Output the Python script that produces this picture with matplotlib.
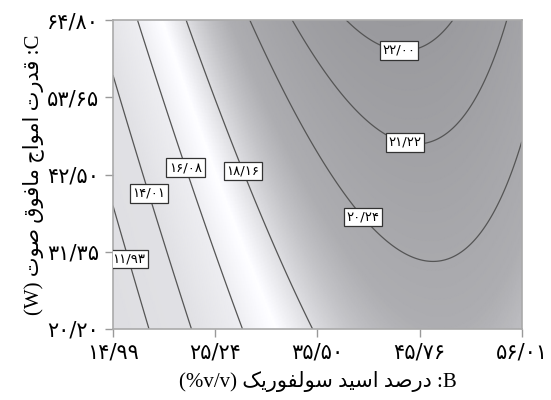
import numpy as np
import matplotlib
matplotlib.use("Agg")
import matplotlib.pyplot as plt
from matplotlib.colors import LinearSegmentedColormap

# factor ranges (B: sulfuric acid %, C: ultrasound power W)
b_ticks = [14.99, 25.24, 35.50, 45.76, 56.01]
c_ticks = [20.20, 31.35, 42.50, 53.65, 64.80]

# quadratic response surface in coded units: 1, A, C, AC, A^2, C^2
coef = [20.00, 3.81, 1.69, -0.79, -3.76, -0.04]

levels = [11.93, 14.01, 16.08, 18.16, 20.24, 21.22, 22.00]
label_pos = [(17.3, 30.6), (18.0, 39.5), (22.5, 43.6), (28.4, 43.2),
             (40.4, 36.8), (44.4, 47.9), (43.8, 61.8)]

FA = str.maketrans("0123456789.", "۰۱۲۳۴۵۶۷۸۹/")

def fa_num(v):
    return f"{v:.2f}".translate(FA)

# minimal arabic shaping: (isolated, final, initial, medial)
FORMS = {
    'ا': ('\ufe8d', '\ufe8e'), 'د': ('\ufea9', '\ufeaa'),
    'ر': ('\ufead', '\ufeae'), 'و': ('\ufeed', '\ufeee'),
    'ص': ('\ufeb9', '\ufeba', '\ufebb', '\ufebc'),
    'س': ('\ufeb1', '\ufeb2', '\ufeb3', '\ufeb4'),
    'ل': ('\ufedd', '\ufede', '\ufedf', '\ufee0'),
    'ف': ('\ufed1', '\ufed2', '\ufed3', '\ufed4'),
    'ق': ('\ufed5', '\ufed6', '\ufed7', '\ufed8'),
    'ت': ('\ufe95', '\ufe96', '\ufe97', '\ufe98'),
    'م': ('\ufee1', '\ufee2', '\ufee3', '\ufee4'),
    'ج': ('\ufe9d', '\ufe9e', '\ufe9f', '\ufea0'),
    'ی': ('\ufbfc', '\ufbfd', '\ufbfe', '\ufbff'),
    'ک': ('\ufb8e', '\ufb8f', '\ufb90', '\ufb91'),
}

def rtl(s):
    out = []
    for i, ch in enumerate(s):
        f = FORMS.get(ch)
        if f is None:
            out.append(ch)
            continue
        prev = FORMS.get(s[i - 1]) if i > 0 else None
        nxt = FORMS.get(s[i + 1]) if i + 1 < len(s) else None
        jp = prev is not None and len(prev) == 4
        jn = nxt is not None and len(f) == 4
        if jp and jn:
            out.append(f[3])
        elif jp:
            out.append(f[1])
        elif jn:
            out.append(f[2])
        else:
            out.append(f[0])
    return "".join(out)[::-1]

xlabel = "(%v/v) " + rtl("درصد اسید سولفوریک") + " :B"
ylabel = "(W) " + rtl("قدرت امواج مافوق صوت") + " :C"

B = np.linspace(b_ticks[0], b_ticks[-1], 300)
C = np.linspace(c_ticks[0], c_ticks[-1], 300)
BB, CC = np.meshgrid(B, C)
a = (BB - 35.50) / 20.51
c = (CC - 42.50) / 22.30
Z = (coef[0] + coef[1] * a + coef[2] * c + coef[3] * a * c
     + coef[4] * a ** 2 + coef[5] * c ** 2)

zmin, zmax = 9.9, 22.3
nodes = [(9.9, 0.87), (14.0, 0.88), (16.0, 0.93), (17.2, 1.0), (18.2, 0.87),
         (19.0, 0.76), (19.7, 0.68), (21.6, 0.62), (22.3, 0.60)]
cmap = LinearSegmentedColormap.from_list(
    "gr", [((z - zmin) / (zmax - zmin), (g, g, g + 0.015)) for z, g in nodes])

fig = plt.figure(figsize=(5.51, 4), dpi=100)
ax = fig.add_axes([0.205, 0.1775, 0.742, 0.7725])
ax.pcolormesh(BB, CC, Z, cmap=cmap, vmin=zmin, vmax=zmax, shading="gouraud")
cs = ax.contour(BB, CC, Z, levels=levels, colors="#555555", linewidths=0.9)
texts = ax.clabel(cs, inline=False, fontsize=9.5, manual=label_pos,
                  fmt={lv: fa_num(lv) for lv in levels})
for t in texts:
    t.set_rotation(0)
    t.set_color("black")
    t.set_bbox(dict(boxstyle="square,pad=0.2", fc="white", ec="#333333", lw=0.9))

ax.set_xlim(b_ticks[0], b_ticks[-1])
ax.set_ylim(c_ticks[0], c_ticks[-1])
ax.set_xticks(b_ticks, [fa_num(v) for v in b_ticks])
ax.set_yticks(c_ticks, [fa_num(v) for v in c_ticks])
ax.tick_params(direction="out", length=6, width=1, color="#999999",
               labelsize=15, pad=4)
for sp in ax.spines.values():
    sp.set_color("#aaaaaa")
    sp.set_linewidth(1.2)

lab_font = ["Liberation Serif", "DejaVu Sans"]
ax.set_xlabel(xlabel, fontsize=15, family=lab_font, labelpad=6)
ax.set_ylabel(ylabel, fontsize=15, family=lab_font, labelpad=2)

fig.savefig("out.png", dpi=100)
